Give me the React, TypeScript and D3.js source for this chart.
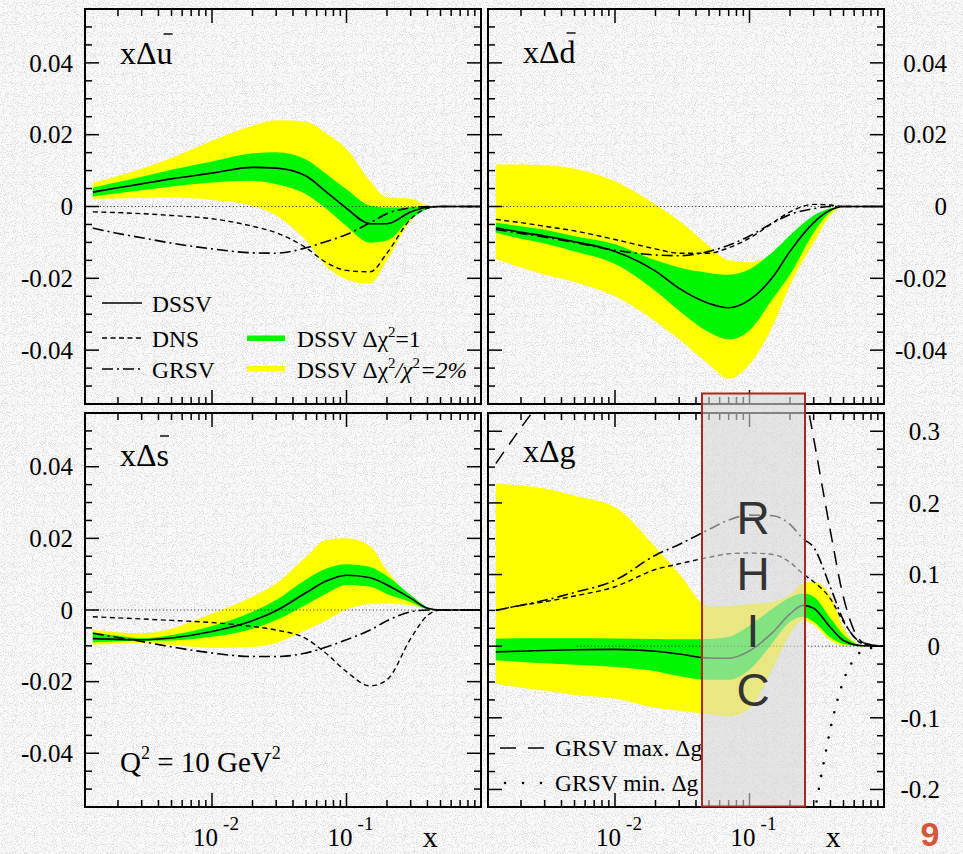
import React, { useEffect, useRef } from 'react';
import * as d3 from 'd3';

// momentum fraction grid for the sea quarks
const xGrid = [0.0013, 0.002, 0.003, 0.005, 0.01, 0.02, 0.03, 0.05, 0.07, 0.1, 0.15, 0.2, 0.3, 0.4, 0.5, 0.7, 1.0];

// x Delta u-bar
const ubarDSSV = [0.0040, 0.0052, 0.0063, 0.0077, 0.0093, 0.0109, 0.0107, 0.0085, 0.0042, -0.0005, -0.0048, -0.0048, -0.0015, -0.0002, 0, 0, 0];
const ubarGreenHi = [0.0052, 0.0068, 0.0083, 0.0102, 0.0125, 0.0148, 0.0151, 0.0131, 0.0092, 0.0048, 0.0002, -0.0003, -0.0002, 0, 0, 0, 0];
const ubarGreenLo = [0.0028, 0.0037, 0.0045, 0.0056, 0.0067, 0.0072, 0.0062, 0.0034, -0.0005, -0.0055, -0.0101, -0.0095, -0.0035, -0.0007, 0, 0, 0];
const ubarYellowHi = [0.0066, 0.0085, 0.0105, 0.0135, 0.0183, 0.0225, 0.0240, 0.0236, 0.0205, 0.0160, 0.0070, 0.0025, 0.0022, 0.0003, 0, 0, 0];
const ubarYellowLo = [0.0020, 0.0022, 0.0024, 0.0025, 0.0018, 0.0002, -0.0025, -0.0095, -0.0165, -0.0203, -0.0215, -0.0150, -0.0040, -0.0005, 0, 0, 0];
const ubarDNS = [-0.0015, -0.0017, -0.0020, -0.0025, -0.0034, -0.0055, -0.0073, -0.0115, -0.0155, -0.0178, -0.0182, -0.0130, -0.0035, -0.0005, 0, 0, 0];
const ubarGRSV = [-0.0060, -0.0075, -0.0087, -0.0102, -0.0118, -0.0129, -0.0130, -0.0115, -0.0098, -0.0078, -0.0045, -0.0020, -0.0004, 0, 0, 0, 0];

// x Delta d-bar
const dbarDSSV = [-0.0059, -0.0072, -0.0082, -0.0098, -0.0125, -0.0180, -0.0228, -0.0270, -0.0282, -0.0260, -0.0195, -0.0125, -0.0045, -0.0010, 0, 0, 0];
const dbarGreenHi = [-0.0045, -0.0055, -0.0065, -0.0083, -0.0105, -0.0150, -0.0170, -0.0185, -0.0190, -0.0175, -0.0125, -0.0080, -0.0025, -0.0005, 0, 0, 0];
const dbarGreenLo = [-0.0073, -0.0090, -0.0103, -0.0125, -0.0160, -0.0235, -0.0290, -0.0350, -0.0370, -0.0345, -0.0255, -0.0190, -0.0073, -0.0015, 0, 0, 0];
const dbarYellowHi = [0.0117, 0.0117, 0.0115, 0.0105, 0.0070, 0.0005, -0.0040, -0.0110, -0.0150, -0.0155, -0.0130, -0.0090, -0.0034, -0.0005, 0, 0, 0];
const dbarYellowLo = [-0.0146, -0.0170, -0.0190, -0.0210, -0.0250, -0.0320, -0.0370, -0.0440, -0.0480, -0.0440, -0.0330, -0.0220, -0.0101, -0.0025, 0, 0, 0];
const dbarDNS = [-0.0036, -0.0045, -0.0055, -0.0068, -0.0092, -0.0118, -0.0130, -0.0130, -0.0115, -0.0088, -0.0045, -0.0015, 0.0006, 0.0004, 0, 0, 0];
const dbarGRSV = [-0.0064, -0.0075, -0.0085, -0.0100, -0.0122, -0.0135, -0.0137, -0.0125, -0.0108, -0.0082, -0.0045, -0.0022, -0.0006, 0, 0, 0, 0];

// x Delta s-bar
const sbarDSSV = [-0.0080, -0.0082, -0.0083, -0.0078, -0.0060, -0.0030, -0.0002, 0.0048, 0.0080, 0.0097, 0.0090, 0.0070, 0.0033, 0.0005, 0, 0, 0];
const sbarGreenHi = [-0.0062, -0.0072, -0.0079, -0.0070, -0.0045, -0.0005, 0.0028, 0.0085, 0.0115, 0.0128, 0.0120, 0.0095, 0.0042, 0.0008, 0, 0, 0];
const sbarGreenLo = [-0.0090, -0.0088, -0.0086, -0.0085, -0.0075, -0.0052, -0.0028, 0.0015, 0.0045, 0.0070, 0.0065, 0.0045, 0.0022, 0.0002, 0, 0, 0];
const sbarYellowHi = [-0.0055, -0.0062, -0.0065, -0.0052, -0.0010, 0.0037, 0.0074, 0.0148, 0.0195, 0.0200, 0.0178, 0.0110, 0.0037, 0.0005, 0, 0, 0];
const sbarYellowLo = [-0.0097, -0.0094, -0.0092, -0.0098, -0.0106, -0.0103, -0.0092, -0.0056, -0.0030, 0.0002, 0.0017, 0.0018, 0.0013, 0.0003, 0, 0, 0];
const sbarDNS = [-0.0019, -0.0022, -0.0025, -0.0029, -0.0035, -0.0046, -0.0056, -0.0080, -0.0120, -0.0172, -0.0212, -0.0195, -0.0080, -0.0015, 0, 0, 0];
const sbarGRSV = [-0.0065, -0.0077, -0.0088, -0.0103, -0.0120, -0.0130, -0.0130, -0.0120, -0.0104, -0.0083, -0.0056, -0.0030, -0.0005, 0, 0, 0, 0];

// x Delta g has its own grid (extra point near the peak)
const gGrid = [0.0013, 0.002, 0.003, 0.005, 0.01, 0.02, 0.03, 0.05, 0.07, 0.1, 0.15, 0.2, 0.25, 0.3, 0.4, 0.5, 0.7, 1.0];
const gDSSV = [-0.0080, -0.0070, -0.0060, -0.0050, -0.0045, -0.0070, -0.0110, -0.0165, -0.0168, -0.0065, 0.0200, 0.0450, 0.0570, 0.0530, 0.0260, 0.0080, 0.0005, 0];
const gGreenHi = [0.0105, 0.0110, 0.0110, 0.0110, 0.0107, 0.0100, 0.0095, 0.0100, 0.0130, 0.0290, 0.0530, 0.0680, 0.0734, 0.0690, 0.0390, 0.0160, 0.0010, 0];
const gGreenLo = [-0.0195, -0.0220, -0.0240, -0.0260, -0.0290, -0.0350, -0.0420, -0.0470, -0.0470, -0.0330, 0.0060, 0.0340, 0.0410, 0.0340, 0.0120, 0.0030, 0, 0];
const gYellowHi = [0.2270, 0.2240, 0.2200, 0.2100, 0.1940, 0.1380, 0.1010, 0.0550, 0.0560, 0.0590, 0.0620, 0.0720, 0.0880, 0.0900, 0.0700, 0.0250, 0.0010, 0];
const gYellowLo = [-0.0520, -0.0580, -0.0620, -0.0680, -0.0730, -0.0860, -0.0900, -0.0950, -0.0980, -0.0870, -0.0300, 0.0170, 0.0360, 0.0300, 0.0080, 0.0010, 0, 0];
const gDNS = [0.050, 0.057, 0.062, 0.070, 0.083, 0.107, 0.115, 0.124, 0.129, 0.130, 0.128, 0.117, 0.101, 0.090, 0.066, 0.034, 0.003, 0];
const gGRSV = [0.050, 0.057, 0.064, 0.075, 0.092, 0.127, 0.142, 0.163, 0.176, 0.183, 0.182, 0.170, 0.150, 0.138, 0.082, 0.036, 0.004, 0];

// GRSV max / min gluon (mostly off scale)
const gMaxX = [0.0013, 0.002, 0.003, 0.005, 0.01, 0.02, 0.05, 0.1, 0.2, 0.25, 0.3, 0.4, 0.5, 0.7, 1.0];
const gMaxVals = [0.255, 0.305, 0.35, 0.41, 0.47, 0.53, 0.58, 0.57, 0.45, 0.37, 0.29, 0.16, 0.068, 0.005, 0];
const gMinX = [0.2, 0.25, 0.3, 0.35, 0.4, 0.5, 0.6, 0.7, 1.0];
const gMinVals = [-0.45, -0.33, -0.24, -0.17, -0.115, -0.048, -0.018, -0.006, 0];

const quarkTicks = ['0.04', '0.02', '0', '-0.02', '-0.04'];
const gluonTicks = ['0.3', '0.2', '0.1', '0', '-0.1', '-0.2'];

const XMIN = 0.001137;
const SERIF = '"Liberation Serif", "Times New Roman", serif';
const SANS = '"Liberation Sans", Arial, sans-serif';

const App = () => {
    const svgRef = useRef<SVGSVGElement>(null);

    useEffect(() => {
        const svg = d3.select(svgRef.current);
        svg.selectAll('*').remove();

        // speckled paper background
        const defs = svg.append('defs');
        const filt = defs.append('filter').attr('id', 'speck')
            .attr('x', 0).attr('y', 0).attr('width', 1).attr('height', 1);
        filt.append('feTurbulence').attr('type', 'fractalNoise')
            .attr('baseFrequency', 1.1).attr('numOctaves', 1).attr('seed', 5);
        filt.append('feColorMatrix').attr('type', 'matrix')
            .attr('values', '0 0 0 0 0.6  0 0 0 0 0.6  0 0 0 0 0.6  16 0 0 0 -9');

        svg.append('rect').attr('width', 963).attr('height', 854).attr('fill', '#f8f8f8');
        svg.append('rect').attr('width', 963).attr('height', 854)
            .attr('filter', 'url(#speck)').attr('opacity', 0.55);

        const panels = [
            {id: 'u', box: [85, 9, 481, 404], yDom: [-0.055, 0.055], step: 0.005, major: 0.02,
             labels: quarkTicks, labelX: 73, anchor: 'end', xs: xGrid,
             dssv: ubarDSSV, dns: ubarDNS, grsv: ubarGRSV, gHi: ubarGreenHi, gLo: ubarGreenLo,
             yHi: ubarYellowHi, yLo: ubarYellowLo, zeroFrom: 0.0013, name: 'u', bar: true, namePos: [120, 64]},
            {id: 'd', box: [488, 9, 884, 404], yDom: [-0.055, 0.055], step: 0.005, major: 0.02,
             labels: quarkTicks, labelX: 947, anchor: 'end', xs: xGrid,
             dssv: dbarDSSV, dns: dbarDNS, grsv: dbarGRSV, gHi: dbarGreenHi, gLo: dbarGreenLo,
             yHi: dbarYellowHi, yLo: dbarYellowLo, zeroFrom: 0.0013, name: 'd', bar: true, namePos: [523, 63]},
            {id: 's', box: [85, 413, 481, 807], yDom: [-0.055, 0.055], step: 0.005, major: 0.02,
             labels: quarkTicks, labelX: 73, anchor: 'end', xs: xGrid,
             dssv: sbarDSSV, dns: sbarDNS, grsv: sbarGRSV, gHi: sbarGreenHi, gLo: sbarGreenLo,
             yHi: sbarYellowHi, yLo: sbarYellowLo, zeroFrom: 0.0013, name: 's', bar: true, namePos: [120, 466]},
            {id: 'g', box: [488, 413, 884, 807], yDom: [-0.2245, 0.3255], step: 0.025, major: 0.1,
             labels: gluonTicks, labelX: 940, anchor: 'end', xs: gGrid,
             dssv: gDSSV, dns: gDNS, grsv: gGRSV, gHi: gGreenHi, gLo: gGreenLo,
             yHi: gYellowHi, yLo: gYellowLo, zeroFrom: 0.0052, name: 'g', bar: false, namePos: [523, 462]},
        ];

        panels.forEach((p) => {
            const [left, top, right, bottom] = p.box;
            const x = d3.scaleLog().domain([XMIN, 1]).range([left, right]);
            const y = d3.scaleLinear().domain(p.yDom).range([bottom, top]);

            defs.append('clipPath').attr('id', `clip-${p.id}`)
                .append('rect').attr('x', left).attr('y', top)
                .attr('width', right - left).attr('height', bottom - top);

            const g = svg.append('g').attr('clip-path', `url(#clip-${p.id})`);

            const band = (hi, lo) => d3.area()
                .x((_, i) => x(p.xs[i]))
                .y0((_, i) => y(lo[i]))
                .y1((_, i) => y(hi[i]))
                .curve(d3.curveMonotoneX)(p.xs);

            const line = (xs, vals) => d3.line()
                .x((_, i) => x(xs[i]))
                .y((_, i) => y(vals[i]))
                .curve(d3.curveMonotoneX)(xs);

            g.append('path').attr('d', band(p.yHi, p.yLo)).attr('fill', '#ffff00');
            g.append('path').attr('d', band(p.gHi, p.gLo)).attr('fill', '#00f500');

            g.append('line')
                .attr('x1', x(p.zeroFrom)).attr('x2', x(1))
                .attr('y1', y(0)).attr('y2', y(0))
                .attr('stroke', '#000').attr('stroke-width', 0.9)
                .attr('stroke-dasharray', '1,2.5');

            g.append('path').attr('d', line(p.xs, p.dns)).attr('fill', 'none')
                .attr('stroke', '#000').attr('stroke-width', 1.4).attr('stroke-dasharray', '5,3.5');
            g.append('path').attr('d', line(p.xs, p.grsv)).attr('fill', 'none')
                .attr('stroke', '#000').attr('stroke-width', 1.6).attr('stroke-dasharray', '11,4,2,4');
            g.append('path').attr('d', line(p.xs, p.dssv)).attr('fill', 'none')
                .attr('stroke', '#000').attr('stroke-width', 1.6);

            if (p.id === 'g') {
                g.append('path').attr('d', line(gMaxX, gMaxVals)).attr('fill', 'none')
                    .attr('stroke', '#000').attr('stroke-width', 1.5).attr('stroke-dasharray', '14,9');
                g.append('path').attr('d', line(gMinX, gMinVals)).attr('fill', 'none')
                    .attr('stroke', '#000').attr('stroke-width', 2.6).attr('stroke-linecap', 'round')
                    .attr('stroke-dasharray', '0,13');
            }

            // frame
            svg.append('rect').attr('x', left).attr('y', top)
                .attr('width', right - left).attr('height', bottom - top)
                .attr('fill', 'none').attr('stroke', '#000').attr('stroke-width', 2);

            // x ticks, inward on top and bottom
            const ticks = svg.append('g').attr('stroke', '#000').attr('stroke-width', 1.5);
            [-3, -2, -1].forEach((e) => {
                d3.range(1, 10).forEach((m) => {
                    const v = m * Math.pow(10, e);
                    if (v <= XMIN || v >= 1) return;
                    const len = m === 1 ? 14 : 7;
                    const px = x(v);
                    ticks.append('line').attr('x1', px).attr('x2', px).attr('y1', bottom).attr('y2', bottom - len);
                    ticks.append('line').attr('x1', px).attr('x2', px).attr('y1', top).attr('y2', top + len);
                });
            });

            // y ticks, inward on left and right
            const i0 = Math.ceil(p.yDom[0] / p.step - 1e-9);
            const i1 = Math.floor(p.yDom[1] / p.step + 1e-9);
            d3.range(i0, i1 + 1).forEach((i) => {
                const v = i * p.step;
                const r = v / p.major;
                const len = Math.abs(r - Math.round(r)) < 1e-6 ? 14 : 7;
                const py = y(v);
                ticks.append('line').attr('x1', left).attr('x2', left + len).attr('y1', py).attr('y2', py);
                ticks.append('line').attr('x1', right).attr('x2', right - len).attr('y1', py).attr('y2', py);
            });

            // tick labels
            p.labels.forEach((lab) => {
                svg.append('text').attr('x', p.labelX).attr('y', y(+lab)).attr('dy', '0.35em')
                    .attr('text-anchor', p.anchor).attr('font-family', SERIF).attr('font-size', 25)
                    .text(lab);
            });

            // panel name  x Delta q
            const nm = svg.append('text').attr('x', p.namePos[0]).attr('y', p.namePos[1])
                .attr('font-family', SERIF).attr('font-size', 32).text(`x\u0394${p.name}`);
            if (p.bar) {
                const w = (nm.node() as SVGTextElement).getComputedTextLength();
                svg.append('line')
                    .attr('x1', p.namePos[0] + w - 9).attr('x2', p.namePos[0] + w)
                    .attr('y1', p.namePos[1] - 30).attr('y2', p.namePos[1] - 30)
                    .attr('stroke', '#000').attr('stroke-width', 1.4);
            }

            // x axis labels under the bottom row
            if (bottom > 600) {
                [-2, -1].forEach((e) => {
                    const t = svg.append('text').attr('x', x(Math.pow(10, e)) + 4).attr('y', 846)
                        .attr('text-anchor', 'middle').attr('font-family', SERIF).attr('font-size', 25);
                    t.append('tspan').text('10');
                    t.append('tspan').attr('dx', 5).attr('dy', -16).attr('font-size', 19).text(`-${-e}`);
                });
                svg.append('text').attr('x', x(0.42)).attr('y', 847).attr('text-anchor', 'middle')
                    .attr('font-family', SERIF).attr('font-size', 30).text('x');
            }
        });

        // legend (top-left panel)
        const legendLines = [
            {label: 'DSSV', dash: null, w: 1.6, y: 303},
            {label: 'DNS', dash: '5,3.5', w: 1.4, y: 338},
            {label: 'GRSV', dash: '11,4,2,4', w: 1.6, y: 369},
        ];
        legendLines.forEach((l) => {
            svg.append('line').attr('x1', 102).attr('x2', 142).attr('y1', l.y).attr('y2', l.y)
                .attr('stroke', '#000').attr('stroke-width', l.w)
                .attr('stroke-dasharray', l.dash);
            svg.append('text').attr('x', 152).attr('y', l.y + 8.5)
                .attr('font-family', SERIF).attr('font-size', 23.5).text(l.label);
        });
        svg.append('rect').attr('x', 247).attr('y', 335.5).attr('width', 38).attr('height', 5.5).attr('fill', '#00f500');
        svg.append('rect').attr('x', 247).attr('y', 366).attr('width', 38).attr('height', 5.5).attr('fill', '#ffff00');

        const t1 = svg.append('text').attr('x', 297).attr('y', 346.5).attr('font-family', SERIF).attr('font-size', 23.5);
        t1.append('tspan').text('DSSV \u0394\u03c7');
        t1.append('tspan').attr('dy', -10).attr('font-size', 15).text('2');
        t1.append('tspan').attr('dy', 10).text('=1');

        const t2 = svg.append('text').attr('x', 297).attr('y', 377.5).attr('font-family', SERIF).attr('font-size', 23.5);
        t2.append('tspan').text('DSSV \u0394\u03c7');
        t2.append('tspan').attr('dy', -10).attr('font-size', 15).text('2');
        t2.append('tspan').attr('dy', 10).attr('font-style', 'italic').text('/\u03c7');
        t2.append('tspan').attr('dy', -10).attr('font-size', 15).text('2');
        t2.append('tspan').attr('dy', 10).attr('font-style', 'italic').text('=2%');

        // legend (gluon panel)
        svg.append('line').attr('x1', 500).attr('x2', 544).attr('y1', 748).attr('y2', 748)
            .attr('stroke', '#000').attr('stroke-width', 1.5).attr('stroke-dasharray', '16,12');
        svg.append('text').attr('x', 555).attr('y', 756).attr('font-family', SERIF)
            .attr('font-size', 23.5).text('GRSV max. \u0394g');
        svg.append('line').attr('x1', 505).attr('x2', 545).attr('y1', 783).attr('y2', 783)
            .attr('stroke', '#000').attr('stroke-width', 2.6).attr('stroke-linecap', 'round')
            .attr('stroke-dasharray', '0,18');
        svg.append('text').attr('x', 555).attr('y', 791).attr('font-family', SERIF)
            .attr('font-size', 23.5).text('GRSV min. \u0394g');

        // Q^2 label
        const q = svg.append('text').attr('x', 120).attr('y', 772).attr('font-family', SERIF).attr('font-size', 29);
        q.append('tspan').text('Q');
        q.append('tspan').attr('dy', -13).attr('font-size', 18).text('2');
        q.append('tspan').attr('dy', 13).text(' = 10 GeV');
        q.append('tspan').attr('dy', -13).attr('font-size', 18).text('2');

        // RHIC window
        svg.append('rect').attr('x', 702).attr('y', 393.5).attr('width', 103).attr('height', 413)
            .attr('fill', '#d9d7d7').attr('fill-opacity', 0.6)
            .attr('stroke', '#a8291f').attr('stroke-width', 2);
        [['R', 534], ['H', 590], ['I', 647], ['C', 706]].forEach(([ch, yy]) => {
            svg.append('text').attr('x', 753).attr('y', yy).attr('text-anchor', 'middle')
                .attr('font-family', SANS).attr('font-size', 46).attr('fill', '#333').text(ch);
        });

        // slide number
        svg.append('text').attr('x', 930).attr('y', 846).attr('text-anchor', 'middle')
            .attr('font-family', SANS).attr('font-weight', 'bold').attr('font-size', 34)
            .attr('fill', '#d4573c').text('9');
    }, []);

    return (
        <svg ref={svgRef} width={963} height={854}
             style={{position: 'absolute', left: 0, top: 0, display: 'block'}}></svg>
    );
};

export default App;
